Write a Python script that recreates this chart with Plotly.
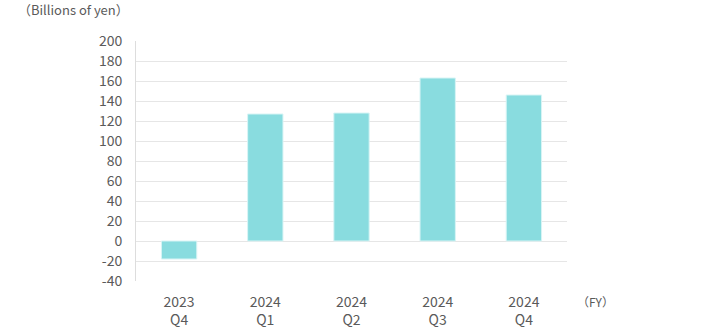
import plotly.graph_objects as go

categories = ["2023<br>Q4", "2024<br>Q1", "2024<br>Q2", "2024<br>Q3", "2024<br>Q4"]
values = [-18, 127, 128, 163, 146]
y_ticks = [-40, -20, 0, 20, 40, 60, 80, 100, 120, 140, 160, 180, 200]
y_tick_labels = [str(v).replace("−", "-") for v in y_ticks]

FONT = "Noto Sans CJK JP, Noto Sans, sans-serif"
TXT = "#5a5a5a"

fig = go.Figure(go.Bar(
    x=categories, y=values,
    marker=dict(color="#89DCDF", line=dict(color="#D8F4F5", width=1)),
    width=0.41,
))

fig.update_layout(
    width=704, height=334,
    margin=dict(l=136, r=137, t=41, b=53),
    paper_bgcolor="white", plot_bgcolor="white",
    font=dict(family=FONT, size=13, color=TXT),
    showlegend=False,
    xaxis=dict(
        showgrid=False, showline=False, zeroline=False, automargin=False,
        ticks="", tickfont=dict(size=14, color=TXT),
        ticklabelstandoff=11,
    ),
    yaxis=dict(
        range=[-40, 200], tickvals=y_ticks, ticktext=y_tick_labels,
        showgrid=True, gridcolor="#E6E6E6", gridwidth=1, automargin=False,
        zeroline=False, showline=True, linecolor="#DDDDDD", linewidth=1,
        ticks="", tickfont=dict(size=14, color=TXT),
        ticklabelstandoff=10,
    ),
    annotations=[
        dict(text="（Billions of yen）", xref="paper", yref="paper",
             x=-136/431 + 17/431, y=1 + (41 - 9)/240, xanchor="left", yanchor="middle",
             borderpad=0,
             showarrow=False, font=dict(size=13, color=TXT)),
        dict(text="（FY）", xref="paper", yref="paper",
             x=1 + 8/431, y=-20/240, xanchor="left", yanchor="middle",
             showarrow=False, font=dict(size=12, color=TXT)),
    ],
)

fig.write_html("out.html")
